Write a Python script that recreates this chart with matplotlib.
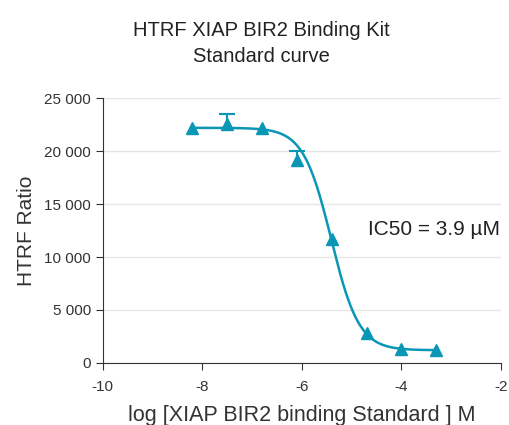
import numpy as np
import matplotlib.pyplot as plt

plt.rcParams['font.family'] = ['Liberation Sans', 'DejaVu Sans']

log_conc = [-8.2, -7.5, -6.8, -6.1, -5.4, -4.7, -4.0, -3.3]
ratio = [22200, 22600, 22200, 19200, 11700, 2800, 1300, 1200]
err_up = [0, 900, 0, 800, 0, 0, 0, 0]

# 4PL fit parameters
top, bottom, log_ic50, hill = 22200, 1200, -5.41, 1.55

color = '#0A97B5'

fig = plt.figure(figsize=(5.09, 4.25), dpi=100)
ax = fig.add_axes([0.202, 0.146, 0.782, 0.623])

xf = np.linspace(min(log_conc), max(log_conc), 300)
yf = bottom + (top - bottom) / (1 + 10 ** ((xf - log_ic50) * hill))
ax.plot(xf, yf, color=color, lw=1.8, zorder=3)
ax.plot(log_conc, ratio, '^', color=color, ms=8.5, zorder=4)

# one-sided error bars (upper only)
ex = [x for x, e in zip(log_conc, err_up) if e > 0]
ey = [y for y, e in zip(ratio, err_up) if e > 0]
ee = [e for e in err_up if e > 0]
_, caps, _ = ax.errorbar(ex, ey, yerr=[[0] * len(ee), ee], fmt='none',
                         ecolor=color, capsize=6, elinewidth=1.5,
                         capthick=1.5, zorder=4)
caps[0].set_visible(False)

ax.set_xlim(-10, -2)
ax.set_ylim(0, 25000)
ax.set_xticks([-10, -8, -6, -4, -2])
ax.set_xticklabels(['-10', '-8', '-6', '-4', '-2'])
yt = [0, 5000, 10000, 15000, 20000, 25000]
ax.set_yticks(yt)
ax.set_yticklabels([f'{v:,}'.replace(',', ' ') for v in yt])
ax.grid(axis='y', color='#e6e6e6', lw=1)
ax.set_axisbelow(True)
for s in ['top', 'right']:
    ax.spines[s].set_visible(False)
for s in ['left', 'bottom']:
    ax.spines[s].set_color('#333333')
ax.tick_params(colors='#333333', labelsize=11, length=5)
ax.tick_params(axis='x', pad=7)

ax.set_xlabel('log [XIAP BIR2 binding Standard ] M', fontsize=15.5,
              color='#333333', labelpad=8)
ax.set_ylabel('HTRF Ratio', fontsize=15, color='#333333', labelpad=6)
ax.text(-4.68, 12600, 'IC50 = 3.9 µM', fontsize=15, color='#222222',
        va='center', ha='left')
fig.text(0.514, 0.929, 'HTRF XIAP BIR2 Binding Kit', fontsize=14.5,
         color='#222222', ha='center', va='center')
fig.text(0.514, 0.866, 'Standard curve', fontsize=14.5,
         color='#222222', ha='center', va='center')

fig.savefig('out.png', dpi=100)
